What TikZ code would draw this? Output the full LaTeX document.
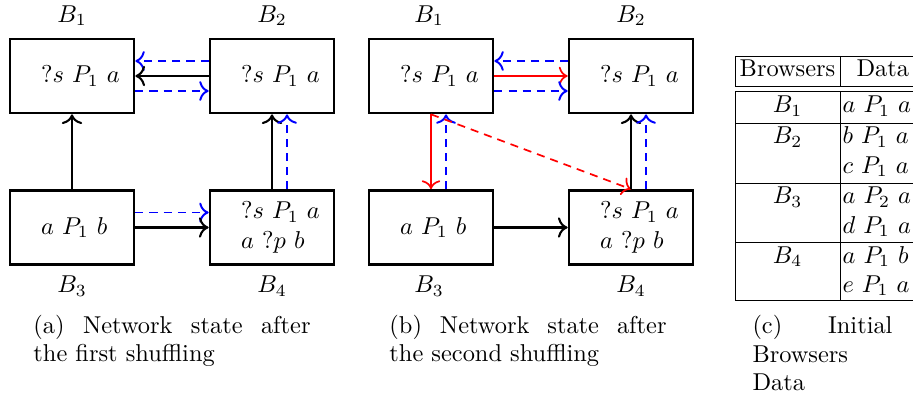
\documentclass[tikz,border=0pt]{standalone}
\usetikzlibrary{calc,arrows.meta}
\begin{document}
\begin{tikzpicture}[x=0.41pt,y=-0.41pt,
  >={To[scale=1.15]},
  box/.style={draw,line width=1.1pt,minimum width=50.84pt,minimum height=30.34pt,inner sep=0pt},
  boxtext/.style={anchor=west,inner sep=0pt,align=left},
  blk/.style={->,line width=0.85pt,black},
  redline/.style={->,line width=0.7pt,red},
  bluedash/.style={->,line width=0.8pt,blue,dash pattern=on 3.3pt off 2.5pt},
  reddash/.style={->,line width=0.7pt,red,dash pattern=on 3.3pt off 2.5pt},
  rulel/.style={line width=0.4pt,black},
  captext/.style={anchor=north west,inner sep=0pt,text width=113.6pt,align=justify,font=\fontsize{10}{11.2}\selectfont}
]
\useasboundingbox (0,0) rectangle (913,398);

% ---------- (a) ----------
\node[box] (a1) at (72,76) {};
\node[box] (a2) at (272,76) {};
\node[box] (a3) at (72,227.5) {};
\node[box] (a4) at (272,227.5) {};
\node[boxtext] (ta1) at ($(a1.west)+(32,0)$) {$?s\ P_1\ a$};
\node[boxtext] (ta2) at ($(a2.west)+(32,0)$) {$?s\ P_1\ a$};
\node[boxtext] (ta3) at ($(a3.west)+(32,0)$) {$a\ P_1\ b$};
\node[boxtext] (ta4) at ($(a4.west)+(32,0)$) {$?s\ P_1\ a$\\$a\ ?p\ b$};
\node (la1) at ($(a1.north)+(0,-22)$) {$B_1$};
\node (la2) at ($(a2.north)+(0,-22)$) {$B_2$};
\node (la3) at ($(a3.south)+(0,20)$) {$B_3$};
\node (la4) at ($(a4.south)+(0,20)$) {$B_4$};

\draw[bluedash] ($(a2.west)+(0,-15)$) -- ($(a1.east)+(0,-15)$);
\draw[blk] (a2.west) -- (a1.east);
\draw[bluedash] ($(a1.east)+(0,15)$) -- ($(a2.west)+(0,15)$);
\draw[blk] (a3.north) -- (a1.south);
\draw[blk] (a4.north) -- (a2.south);
\draw[bluedash] ($(a4.north)+(15,0)$) -- ($(a2.south)+(15,0)$);
\draw[bluedash] ($(a3.east)+(0,-15)$) -- ($(a4.west)+(0,-15)$);
\draw[blk] (a3.east) -- (a4.west);

% ---------- (b) ----------
\node[box] (b1) at (431,76) {};
\node[box] (b2) at (631,76) {};
\node[box] (b3) at (431,227.5) {};
\node[box] (b4) at (631,227.5) {};
\node[boxtext] (tb1) at ($(b1.west)+(32,0)$) {$?s\ P_1\ a$};
\node[boxtext] (tb2) at ($(b2.west)+(32,0)$) {$?s\ P_1\ a$};
\node[boxtext] (tb3) at ($(b3.west)+(32,0)$) {$a\ P_1\ b$};
\node[boxtext] (tb4) at ($(b4.west)+(32,0)$) {$?s\ P_1\ a$\\$a\ ?p\ b$};
\node (lb1) at ($(b1.north)+(-2,-22)$) {$B_1$};
\node (lb2) at ($(b2.north)+(0,-22)$) {$B_2$};
\node (lb3) at ($(b3.south)+(-2,20)$) {$B_3$};
\node (lb4) at ($(b4.south)+(0,20)$) {$B_4$};

\draw[bluedash] ($(b2.west)+(0,-15)$) -- ($(b1.east)+(0,-15)$);
\draw[redline] (b1.east) -- (b2.west);
\draw[bluedash] ($(b1.east)+(0,15)$) -- ($(b2.west)+(0,15)$);
\draw[redline] (b1.south) -- (b3.north);
\draw[bluedash] ($(b3.north)+(15,0)$) -- ($(b1.south)+(15,0)$);
\draw[reddash] (b1.south) -- (b4.north);
\draw[blk] (b4.north) -- (b2.south);
\draw[bluedash] ($(b4.north)+(15,0)$) -- ($(b2.south)+(15,0)$);
\draw[blk] (b3.east) -- (b4.west);

% ---------- (c) table ----------
\draw[rulel] (735,56) -- (913,56);
\draw[rulel] (735,86) -- (913,86);
\draw[rulel] (735,91.5) -- (913,91.5);
\draw[rulel] (735,123) -- (913,123);
\draw[rulel] (735,183) -- (913,183);
\draw[rulel] (735,242) -- (913,242);
\draw[rulel] (735,300) -- (913,300);
\draw[rulel] (735,56) -- (735,86);
\draw[rulel] (840,56) -- (840,86);
\draw[rulel] (735,91.5) -- (735,300);
\draw[rulel] (840,91.5) -- (840,300);

\node[anchor=base,inner sep=0pt] (h1) at (787.5,77) {Browsers};
\node[anchor=base west,inner sep=0pt] (h2) at (856,77) {Data};
\node[anchor=base,inner sep=0pt] (r1) at (787.5,113) {$B_1$};
\node[anchor=base west,inner sep=0pt] (d1) at (842,113) {$a\ P_1\ a$};
\node[anchor=base,inner sep=0pt] (r2) at (787.5,144) {$B_2$};
\node[anchor=base west,inner sep=0pt] (d2) at (842,144) {$b\ P_1\ a$};
\node[anchor=base west,inner sep=0pt] (d3) at (842,173) {$c\ P_1\ a$};
\node[anchor=base,inner sep=0pt] (r3) at (787.5,204) {$B_3$};
\node[anchor=base west,inner sep=0pt] (d4) at (842,204) {$a\ P_2\ a$};
\node[anchor=base west,inner sep=0pt] (d5) at (842,233) {$d\ P_1\ a$};
\node[anchor=base,inner sep=0pt] (r4) at (787.5,263) {$B_4$};
\node[anchor=base west,inner sep=0pt] (d6) at (842,263) {$a\ P_1\ b$};
\node[anchor=base west,inner sep=0pt] (d7) at (842,292) {$e\ P_1\ a$};

% ---------- captions ----------
\node[captext] (capa) at (33,315) {(a) Network state after\linebreak the first shuffling};
\node[captext] (capb) at (389,315) {(b) Network state after\linebreak the second shuffling};
\node[captext,text width=57.4pt,align=left,font=\fontsize{10}{11.7}\selectfont] (capc) at (752,315) {(c)\hfill Initial\\Browsers\\Data};
\end{tikzpicture}
\end{document}
